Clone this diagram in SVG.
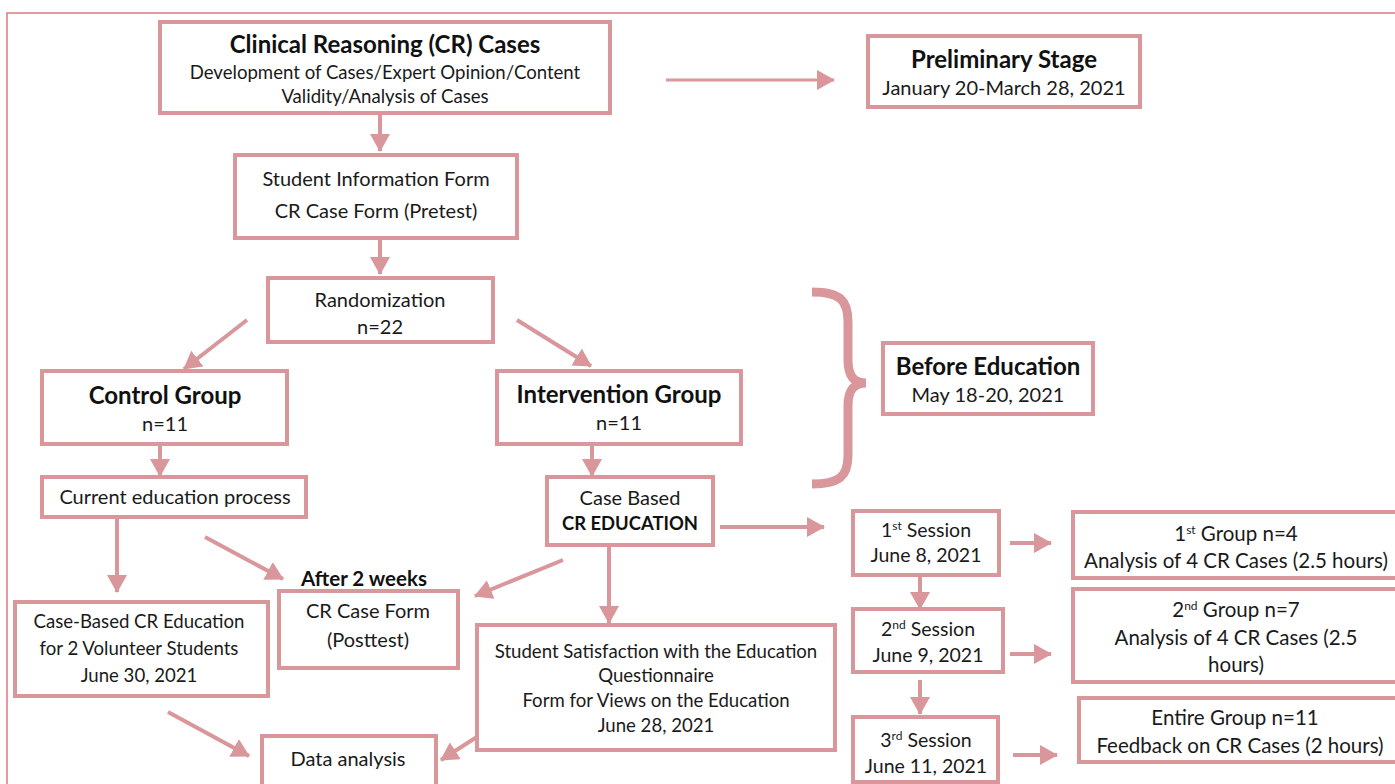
<svg xmlns="http://www.w3.org/2000/svg" width="1395" height="784" viewBox="0 0 1395 784">
<style>
.box{fill:#fff;stroke:#d9979b;stroke-width:4}
.t{font-family:Lato,"Liberation Sans",sans-serif;font-size:20px;fill:#1a1a1a;text-anchor:middle}
.s{font-size:18.6px}
.g{font-size:20.5px}
.b{font-family:Lato,"Liberation Sans",sans-serif;font-size:24px;font-weight:bold;fill:#111;text-anchor:middle}
.c{stroke:#d9979b;stroke-width:4;fill:none;marker-end:url(#ah)}
.sup{font-size:12px}
</style>
<defs>
<marker id="ah" markerUnits="userSpaceOnUse" markerWidth="18" markerHeight="20" viewBox="0 0 18 20" refX="17" refY="10" orient="auto">
<path d="M0,0 L18,10 L0,20 Z" fill="#d9979b"/>
</marker>
</defs>
<rect width="1395" height="784" fill="#fff"/>
<path d="M7,784 L7,13 L1395,13" fill="none" stroke="#e07884" stroke-width="1.5"/>

<g id="connectors">
<line class="c" x1="380" y1="114" x2="380" y2="151"/>
<line class="c" x1="380" y1="238" x2="380" y2="274"/>
<line class="c" x1="247" y1="320" x2="184" y2="369"/>
<line class="c" x1="517" y1="320" x2="591" y2="366"/>
<line class="c" x1="160" y1="444" x2="160" y2="476"/>
<line class="c" x1="592" y1="444" x2="592" y2="476"/>
<line class="c" x1="666" y1="80" x2="834" y2="80" style="stroke-width:3"/>
<line class="c" x1="720" y1="527" x2="824" y2="527"/>
<line class="c" x1="1010" y1="543" x2="1051" y2="543"/>
<line class="c" x1="920" y1="575" x2="920" y2="609"/>
<line class="c" x1="1010" y1="654" x2="1051" y2="654"/>
<line class="c" x1="920" y1="680" x2="920" y2="714"/>
<line class="c" x1="1013" y1="755" x2="1057" y2="755"/>
<line class="c" x1="117" y1="517" x2="117" y2="592"/>
<line class="c" x1="205" y1="537" x2="283" y2="579"/>
<line class="c" x1="563" y1="560" x2="475" y2="596"/>
<line class="c" x1="609" y1="545" x2="609" y2="623"/>
<line class="c" x1="168" y1="712" x2="249" y2="756"/>
<line class="c" x1="483" y1="733" x2="441" y2="760"/>
<path d="M812,292 C840,292 848,300 848,322 L848,360 C848,376 854,383 866,383 C854,383 848,390 848,406 L848,455 C848,476 840,484 812,484" fill="none" stroke="#d9979b" stroke-width="9"/>
</g>

<g id="cr-cases">
<rect class="box" x="160" y="22" width="450" height="91"/>
<text class="b" x="385" y="53">Clinical Reasoning (CR) Cases</text>
<text class="t s" x="385" y="79">Development of Cases/Expert Opinion/Content</text>
<text class="t s" x="385" y="103">Validity/Analysis of Cases</text>
</g>

<g id="preliminary">
<rect class="box" x="868" y="36" width="272" height="71"/>
<text class="b" x="1004" y="68">Preliminary Stage</text>
<text class="t" x="1004" y="95">January 20-March 28, 2021</text>
</g>

<g id="student-info">
<rect class="box" x="235" y="155" width="282" height="83"/>
<text class="t" x="376" y="186">Student Information Form</text>
<text class="t" x="376" y="218">CR Case Form (Pretest)</text>
</g>

<g id="randomization">
<rect class="box" x="268" y="278" width="225" height="64"/>
<text class="t" x="380" y="307">Randomization</text>
<text class="t" x="380" y="334">n=22</text>
</g>

<g id="before-education">
<rect class="box" x="883" y="343" width="210" height="71"/>
<text class="b" x="988" y="375">Before Education</text>
<text class="t" x="988" y="402">May 18-20, 2021</text>
</g>

<g id="control">
<rect class="box" x="42" y="371" width="245" height="73"/>
<text class="b" x="165" y="404">Control Group</text>
<text class="t" x="165" y="431">n=11</text>
</g>

<g id="intervention">
<rect class="box" x="497" y="371" width="244" height="73"/>
<text class="b" x="619" y="403">Intervention Group</text>
<text class="t" x="619" y="430">n=11</text>
</g>

<g id="current-education">
<rect class="box" x="42" y="477" width="264" height="40"/>
<text class="t" x="175" y="504">Current education process</text>
</g>

<g id="cr-education">
<rect class="box" x="547" y="477" width="166" height="68"/>
<text class="t" x="630" y="505">Case Based</text>
<text class="b" x="630" y="530" style="font-size:19px" textLength="136" lengthAdjust="spacingAndGlyphs">CR EDUCATION</text>
</g>

<g id="session1">
<rect class="box" x="853" y="511" width="146" height="64"/>
<text class="t" x="926" y="537" style="font-size:19.5px">1<tspan class="sup" dy="-7">st</tspan><tspan dy="7"> Session</tspan></text>
<text class="t" x="926" y="562" style="font-size:19.5px">June 8, 2021</text>
</g>

<g id="group1">
<rect class="box" x="1073" y="512" width="330" height="66"/>
<text class="t g" x="1236" y="541">1<tspan class="sup" dy="-7">st</tspan><tspan dy="7"> Group n=4</tspan></text>
<text class="t g" x="1236" y="568">Analysis of 4 CR Cases (2.5 hours)</text>
</g>

<g id="session2">
<rect class="box" x="853" y="609" width="150" height="63"/>
<text class="t" x="928" y="636" style="font-size:19.5px">2<tspan class="sup" dy="-7">nd</tspan><tspan dy="7"> Session</tspan></text>
<text class="t" x="928" y="662" style="font-size:19.5px">June 9, 2021</text>
</g>

<g id="group2">
<rect class="box" x="1073" y="589" width="330" height="93"/>
<text class="t g" x="1236" y="617">2<tspan class="sup" dy="-7">nd</tspan><tspan dy="7"> Group n=7</tspan></text>
<text class="t g" x="1236" y="645">Analysis of 4 CR Cases (2.5</text>
<text class="t g" x="1236" y="672">hours)</text>
</g>

<g id="session3">
<rect class="box" x="853" y="717" width="145" height="65"/>
<text class="t" x="926" y="747" style="font-size:19.5px">3<tspan class="sup" dy="-7">rd</tspan><tspan dy="7"> Session</tspan></text>
<text class="t" x="926" y="773" style="font-size:19.5px">June 11, 2021</text>
</g>

<g id="group3">
<rect class="box" x="1079" y="698" width="330" height="64"/>
<text class="t g" x="1235" y="725">Entire Group n=11</text>
<text class="t g" x="1240" y="753">Feedback on CR Cases (2 hours)</text>
</g>

<g id="case-based-volunteer">
<rect class="box" x="15" y="602" width="253" height="94"/>
<text class="t s" x="139" y="628">Case-Based CR Education</text>
<text class="t s" x="139" y="655">for 2 Volunteer Students</text>
<text class="t s" x="139" y="682">June 30, 2021</text>
</g>

<g id="posttest">
<text class="b" x="364" y="586" style="font-size:20.5px">After 2 weeks</text>
<rect class="box" x="279" y="591" width="179" height="77"/>
<text class="t" x="368" y="618">CR Case Form</text>
<text class="t" x="368" y="647">(Posttest)</text>
</g>

<g id="satisfaction">
<rect class="box" x="477" y="625" width="358" height="125"/>
<text class="t s" x="656" y="658">Student Satisfaction with the Education</text>
<text class="t s" x="656" y="682">Questionnaire</text>
<text class="t s" x="656" y="707">Form for Views on the Education</text>
<text class="t s" x="656" y="732">June 28, 2021</text>
</g>

<g id="data-analysis">
<rect class="box" x="262" y="736" width="174" height="52"/>
<text class="t" x="348" y="766">Data analysis</text>
</g>
</svg>
